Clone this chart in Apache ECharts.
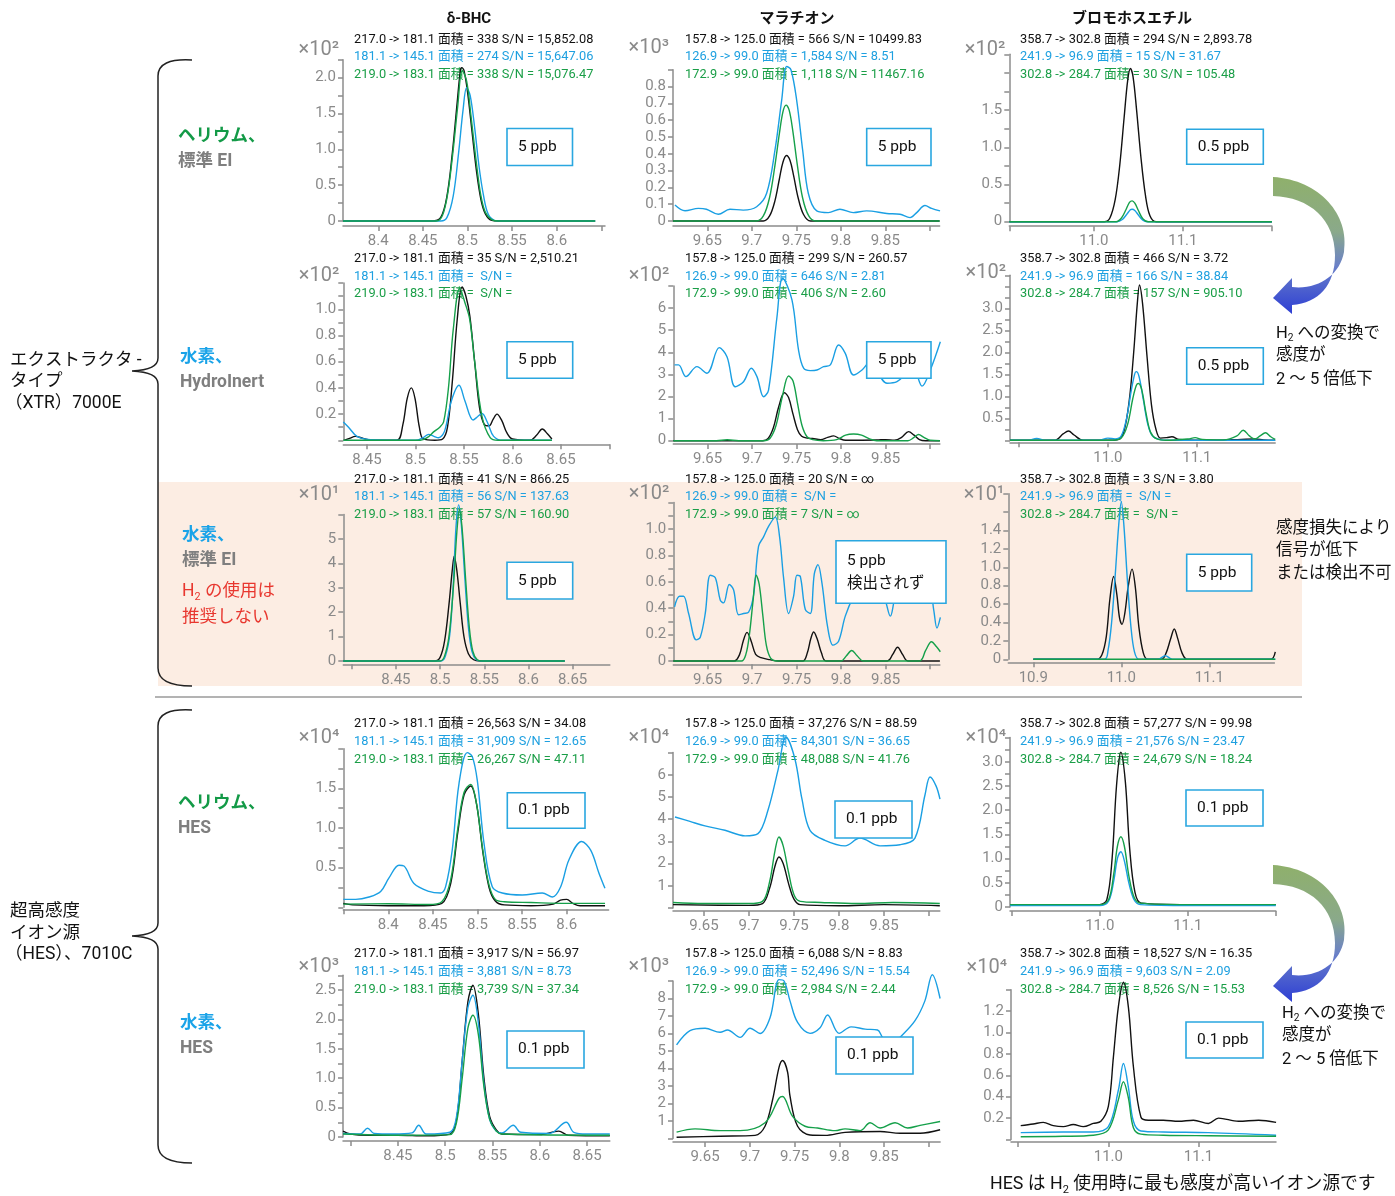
<!DOCTYPE html>
<html><head><meta charset="utf-8">
<script src="https://cdn.jsdelivr.net/npm/echarts@6/dist/echarts.min.js"></script>
<style>html,body{margin:0;padding:0;background:#fff}#c{width:1395px;height:1196px}</style>
</head><body><div id="c"></div>
<script>
const FONT = 'Roboto, "Noto Sans CJK JP", sans-serif';
const BLACK = '#111111', BLUE = '#1a9fe3', GREEN = '#15a04a';
const TBLUE = '#1ea0e0', TGREEN = '#1a9e47';

const compounds = ['δ-BHC', 'マラチオン', 'ブロモホスエチル'];

const mrmR1 = [
  ['217.0 -> 181.1 面積 = 338 S/N = 15,852.08', '181.1 -> 145.1 面積 = 274 S/N = 15,647.06', '219.0 -> 183.1 面積 = 338 S/N = 15,076.47'],
  ['157.8 -> 125.0 面積 = 566 S/N = 10499.83', '126.9 -> 99.0 面積 = 1,584 S/N = 8.51', '172.9 -> 99.0 面積 = 1,118 S/N = 11467.16'],
  ['358.7 -> 302.8 面積 = 294 S/N = 2,893.78', '241.9 -> 96.9 面積 = 15 S/N = 31.67', '302.8 -> 284.7 面積 = 30 S/N = 105.48']
];
const mrmR2 = [
  ['217.0 -> 181.1 面積 = 35 S/N = 2,510.21', '181.1 -> 145.1 面積 =  S/N =', '219.0 -> 183.1 面積 =  S/N ='],
  ['157.8 -> 125.0 面積 = 299 S/N = 260.57', '126.9 -> 99.0 面積 = 646 S/N = 2.81', '172.9 -> 99.0 面積 = 406 S/N = 2.60'],
  ['358.7 -> 302.8 面積 = 466 S/N = 3.72', '241.9 -> 96.9 面積 = 166 S/N = 38.84', '302.8 -> 284.7 面積 = 157 S/N = 905.10']
];
const mrmR3 = [
  ['217.0 -> 181.1 面積 = 41 S/N = 866.25', '181.1 -> 145.1 面積 = 56 S/N = 137.63', '219.0 -> 183.1 面積 = 57 S/N = 160.90'],
  ['157.8 -> 125.0 面積 = 20 S/N = ∞', '126.9 -> 99.0 面積 =  S/N =', '172.9 -> 99.0 面積 = 7 S/N = ∞'],
  ['358.7 -> 302.8 面積 = 3 S/N = 3.80', '241.9 -> 96.9 面積 =  S/N =', '302.8 -> 284.7 面積 =  S/N =']
];
const mrmR4 = [
  ['217.0 -> 181.1 面積 = 26,563 S/N = 34.08', '181.1 -> 145.1 面積 = 31,909 S/N = 12.65', '219.0 -> 183.1 面積 = 26,267 S/N = 47.11'],
  ['157.8 -> 125.0 面積 = 37,276 S/N = 88.59', '126.9 -> 99.0 面積 = 84,301 S/N = 36.65', '172.9 -> 99.0 面積 = 48,088 S/N = 41.76'],
  ['358.7 -> 302.8 面積 = 57,277 S/N = 99.98', '241.9 -> 96.9 面積 = 21,576 S/N = 23.47', '302.8 -> 284.7 面積 = 24,679 S/N = 18.24']
];
const mrmR5 = [
  ['217.0 -> 181.1 面積 = 3,917 S/N = 56.97', '181.1 -> 145.1 面積 = 3,881 S/N = 8.73', '219.0 -> 183.1 面積 = 3,739 S/N = 37.34'],
  ['157.8 -> 125.0 面積 = 6,088 S/N = 8.83', '126.9 -> 99.0 面積 = 52,496 S/N = 15.54', '172.9 -> 99.0 面積 = 2,984 S/N = 2.44'],
  ['358.7 -> 302.8 面積 = 18,527 S/N = 16.35', '241.9 -> 96.9 面積 = 9,603 S/N = 2.09', '302.8 -> 284.7 面積 = 8,526 S/N = 15.53']
];
const concR1 = ['5 ppb', '5 ppb', '0.5 ppb'];
const concR2 = ['5 ppb', '5 ppb', '0.5 ppb'];
const concR3 = ['5 ppb', '5 ppb\n検出されず', '5 ppb'];
const concR4 = ['0.1 ppb', '0.1 ppb', '0.1 ppb'];
const concR5 = ['0.1 ppb', '0.1 ppb', '0.1 ppb'];
const exponents = [['×10²', '×10³', '×10²'], ['×10²', '×10²', '×10²'], ['×10¹', '×10²', '×10¹'], ['×10⁴', '×10⁴', '×10⁴'], ['×10³', '×10³', '×10⁴']];

const xTickR1C1 = [8.4, 8.45, 8.5, 8.55, 8.6, 8.65], xLabR1C1 = [8.4, 8.45, 8.5, 8.55, 8.6];
const xTickMal = [9.65, 9.7, 9.75, 9.8, 9.85, 9.9], xLabMal = [9.65, 9.7, 9.75, 9.8, 9.85];
const xTickR1C3 = [10.905, 11.0, 11.1, 11.2], xLabR1C3 = [11.0, 11.1];
const xTickR2C1 = [8.45, 8.5, 8.55, 8.6, 8.65, 8.7], xLabR2C1 = [8.45, 8.5, 8.55, 8.6, 8.65];
const xTickR2C3 = [10.9, 11.0, 11.1], xLabR2C3 = [11.0, 11.1];
const xTickR3C1 = [8.4, 8.45, 8.5, 8.55, 8.6, 8.65], xLabR3C1 = [8.45, 8.5, 8.55, 8.6, 8.65];
const xTickR3C3 = [10.9, 11.0, 11.1], xLabR3C3 = [10.9, 11.0, 11.1];
const xTickR4C1 = [8.35, 8.4, 8.45, 8.5, 8.55, 8.6], xLabR4C1 = [8.4, 8.45, 8.5, 8.55, 8.6];
const xTickR4C3 = [10.9, 11.0, 11.1, 11.2], xLabR4C3 = [11.0, 11.1];
const xTickR5C1 = [8.4, 8.45, 8.5, 8.55, 8.6, 8.65], xLabR5C1 = [8.45, 8.5, 8.55, 8.6, 8.65];
const xTickR5C3 = [10.9, 11.0, 11.1], xLabR5C3 = [11.0, 11.1];

const yTickR1C1 = [0, 0.25, 0.5, 0.75, 1, 1.25, 1.5, 1.75, 2, 2.25], yLabR1C1 = [0, 0.5, 1, 1.5, 2];
const yTickR1C2 = [0, 0.1, 0.2, 0.3, 0.4, 0.5, 0.6, 0.7, 0.8, 0.9], yLabR1C2 = [0, 0.1, 0.2, 0.3, 0.4, 0.5, 0.6, 0.7, 0.8];
const yTickR1C3 = [0, 0.25, 0.5, 0.75, 1, 1.25, 1.5, 1.75, 2, 2.25], yLabR1C3 = [0, 0.5, 1, 1.5];
const yTickR2C1 = [0, 0.1, 0.2, 0.3, 0.4, 0.5, 0.6, 0.7, 0.8, 0.9, 1.0, 1.1, 1.2], yLabR2C1 = [0.2, 0.4, 0.6, 0.8, 1.0];
const yTickR2C2 = [0, 1, 2, 3, 4, 5, 6, 7], yLabR2C2 = [0, 1, 2, 3, 4, 5, 6];
const yTickR2C3 = [0, 0.25, 0.5, 0.75, 1, 1.25, 1.5, 1.75, 2, 2.25, 2.5, 2.75, 3, 3.25, 3.5, 3.75], yLabR2C3 = [0.5, 1, 1.5, 2, 2.5, 3];
const yTickR3C1 = [0, 1, 2, 3, 4, 5, 6], yLabR3C1 = [0, 1, 2, 3, 4, 5];
const yTickR3C2 = [0, 0.1, 0.2, 0.3, 0.4, 0.5, 0.6, 0.7, 0.8, 0.9, 1.0, 1.1, 1.2], yLabR3C2 = [0, 0.2, 0.4, 0.6, 0.8, 1.0];
const yTickR3C3 = [0, 0.2, 0.4, 0.6, 0.8, 1.0, 1.2, 1.4, 1.6, 1.8], yLabR3C3 = [0, 0.2, 0.4, 0.6, 0.8, 1.0, 1.2, 1.4];
const yTickR4C1 = [0, 0.25, 0.5, 0.75, 1, 1.25, 1.5, 1.75, 2], yLabR4C1 = [0.5, 1, 1.5];
const yTickR4C2 = [0, 1, 2, 3, 4, 5, 6, 7], yLabR4C2 = [1, 2, 3, 4, 5, 6];
const yTickR4C3 = [0, 0.25, 0.5, 0.75, 1, 1.25, 1.5, 1.75, 2, 2.25, 2.5, 2.75, 3, 3.25, 3.5], yLabR4C3 = [0, 0.5, 1, 1.5, 2, 2.5, 3];
const yTickR5C1 = [0, 0.25, 0.5, 0.75, 1, 1.25, 1.5, 1.75, 2, 2.25, 2.5, 2.75], yLabR5C1 = [0, 0.5, 1, 1.5, 2, 2.5];
const yTickR5C2 = [0, 1, 2, 3, 4, 5, 6, 7, 8, 9], yLabR5C2 = [1, 2, 3, 4, 5, 6, 7, 8];
const yTickR5C3 = [0, 0.2, 0.4, 0.6, 0.8, 1.0, 1.2, 1.4], yLabR5C3 = [0.2, 0.4, 0.6, 0.8, 1.0, 1.2];

// ---------------- trace data [retention time, intensity] ----------------
const r1c1Black = [[8.3605,0],[8.46,0],[8.47,0.05],[8.477,0.35],[8.483,0.95],[8.488,1.6],[8.492,2.1],[8.4935,2.14],[8.496,2.1],[8.5,1.8],[8.505,1.25],[8.51,0.7],[8.515,0.3],[8.52,0.1],[8.527,0.01],[8.535,0],[8.643,0]];
const r1c1Blue = [[8.3605,0],[8.47,0],[8.477,0.05],[8.484,0.35],[8.49,0.95],[8.495,1.55],[8.499,1.86],[8.503,1.75],[8.508,1.3],[8.513,0.75],[8.518,0.35],[8.523,0.1],[8.53,0.01],[8.537,0],[8.643,0]];
const r1c1Green = [[8.3605,0],[8.465,0],[8.472,0.08],[8.478,0.4],[8.484,1.0],[8.489,1.6],[8.494,2.1],[8.499,1.95],[8.504,1.45],[8.51,0.8],[8.515,0.35],[8.52,0.12],[8.527,0.02],[8.535,0],[8.643,0]];

const r1c2Black = [[9.6115,0],[9.713,0],[9.72,0.03],[9.726,0.12],[9.731,0.25],[9.735,0.35],[9.739,0.39],[9.743,0.36],[9.747,0.27],[9.752,0.14],[9.758,0.04],[9.766,0],[9.911,0]];
const r1c2Blue = [[9.6137,0.095],[9.625,0.061],[9.64,0.075],[9.649,0.07],[9.6624,0.04],[9.6755,0.07],[9.6904,0.065],[9.7055,0.085],[9.7167,0.165],[9.726,0.42],[9.7336,0.72],[9.7392,0.92],[9.744,0.9],[9.7504,0.72],[9.7572,0.42],[9.7635,0.165],[9.773,0.06],[9.786,0.05],[9.799,0.07],[9.814,0.05],[9.829,0.06],[9.8516,0.045],[9.8665,0.04],[9.8778,0.02],[9.8853,0.05],[9.8946,0.092],[9.902,0.075],[9.9115,0.06]];
const r1c2Green = [[9.6115,0],[9.705,0],[9.713,0.03],[9.72,0.14],[9.726,0.33],[9.731,0.52],[9.735,0.65],[9.7385,0.69],[9.742,0.66],[9.746,0.54],[9.751,0.34],[9.757,0.14],[9.764,0.03],[9.772,0],[9.911,0]];

const r1c3Black = [[10.905,0],[11.012,0],[11.018,0.05],[11.024,0.3],[11.029,0.75],[11.034,1.4],[11.038,1.9],[11.041,2.06],[11.044,1.95],[11.048,1.5],[11.053,0.85],[11.058,0.35],[11.063,0.08],[11.07,0],[11.2,0]];
const r1c3Blue = [[10.905,0],[11.026,0],[11.032,0.03],[11.037,0.1],[11.041,0.16],[11.043,0.167],[11.046,0.15],[11.05,0.09],[11.055,0.02],[11.06,0],[11.2,0]];
const r1c3Green = [[10.905,0],[11.025,0],[11.031,0.05],[11.036,0.16],[11.04,0.26],[11.043,0.28],[11.046,0.25],[11.05,0.15],[11.055,0.04],[11.061,0],[11.2,0]];

const r2c1Black = [[8.4262,0],[8.432,0.015],[8.438,0.03],[8.446,0.015],[8.455,0],[8.481,0],[8.487,0.12],[8.4915,0.32],[8.4957,0.4],[8.4995,0.32],[8.504,0.1],[8.508,0.01],[8.52,0],[8.528,0.01],[8.533,0.1],[8.538,0.45],[8.543,0.92],[8.548,1.17],[8.552,1.1],[8.556,0.95],[8.561,0.6],[8.566,0.25],[8.571,0.12],[8.576,0.11],[8.58,0.16],[8.584,0.2],[8.589,0.15],[8.594,0.06],[8.6,0.01],[8.618,0],[8.625,0.04],[8.6307,0.086],[8.636,0.05],[8.6406,0.01]];
const r2c1Blue = [[8.4256,0.14],[8.431,0.1],[8.4397,0.03],[8.4534,0.005],[8.5,0],[8.508,0.02],[8.5135,0.045],[8.519,0.03],[8.5238,0.02],[8.53,0.07],[8.537,0.3],[8.5449,0.42],[8.551,0.3],[8.5594,0.155],[8.564,0.18],[8.5686,0.205],[8.574,0.14],[8.5806,0.03],[8.59,0],[8.6406,0]];
const r2c1Green = [[8.4256,0],[8.505,0],[8.512,0.02],[8.519,0.066],[8.525,0.1],[8.529,0.14],[8.534,0.4],[8.539,0.85],[8.5456,1.16],[8.551,1.05],[8.556,0.92],[8.561,0.6],[8.5686,0.18],[8.577,0.02],[8.585,0],[8.6406,0]];

const r2c2Black = [[9.6115,0],[9.712,0],[9.718,0.1],[9.724,0.6],[9.73,1.55],[9.7363,2.17],[9.741,1.95],[9.746,1.2],[9.751,0.5],[9.7557,0.2],[9.762,0.12],[9.768,0.1],[9.777,0.05],[9.785,0.15],[9.7916,0.22],[9.798,0.1],[9.805,0.02],[9.84,0.03],[9.85,0.05],[9.86,0.02],[9.868,0.15],[9.8758,0.41],[9.882,0.25],[9.888,0.05],[9.895,0],[9.911,0]];
const r2c2Blue = [[9.6129,3.43],[9.6174,3.43],[9.6257,2.9],[9.6381,3.35],[9.6493,3.05],[9.6631,4.21],[9.6718,3.8],[9.6811,2.44],[9.6904,2.67],[9.6991,3.28],[9.7055,2.9],[9.7129,1.99],[9.7185,2.29],[9.728,5.61],[9.7343,7.35],[9.7448,6.37],[9.7522,4.1],[9.7579,3.28],[9.7654,3.17],[9.7729,3.2],[9.7803,3.35],[9.7879,3.43],[9.7972,4.33],[9.8047,3.95],[9.814,2.97],[9.8235,3.2],[9.8328,3.57],[9.8516,2.6],[9.8628,2.67],[9.874,3.05],[9.8815,3.2],[9.8909,2.47],[9.9002,3.2],[9.9115,4.48]];
const r2c2Green = [[9.6115,0],[9.66,0],[9.672,0.04],[9.685,0],[9.713,0],[9.72,0.1],[9.727,0.7],[9.734,2.0],[9.741,2.93],[9.746,2.7],[9.751,1.7],[9.756,0.7],[9.7617,0.18],[9.768,0.05],[9.78,0],[9.795,0.05],[9.805,0.25],[9.814,0.3],[9.823,0.25],[9.832,0.08],[9.84,0],[9.875,0],[9.882,0.15],[9.887,0.28],[9.893,0.15],[9.9,0.02],[9.911,0]];

const r2c3Black = [[10.89,0],[10.94,0],[10.95,0.15],[10.9557,0.21],[10.962,0.12],[10.972,0],[11.0,0],[11.012,0.02],[11.018,0.2],[11.024,0.9],[11.029,2.0],[11.033,3.1],[11.0355,3.53],[11.039,3.1],[11.044,1.9],[11.049,0.8],[11.054,0.25],[11.059,0.05],[11.066,0.06],[11.072,0.08],[11.08,0.02],[11.12,0],[11.15,0.02],[11.165,0.03],[11.175,0.01],[11.188,0]];
const r2c3Blue = [[10.89,0],[10.91,0],[10.92,0.04],[10.93,0],[10.99,0],[11.0,0.05],[11.008,0.03],[11.015,0.1],[11.021,0.5],[11.026,1.1],[11.03,1.5],[11.0318,1.56],[11.035,1.45],[11.04,0.9],[11.045,0.35],[11.05,0.1],[11.058,0.02],[11.07,0],[11.188,0]];
const r2c3Green = [[10.89,0],[11.005,0],[11.015,0.05],[11.022,0.35],[11.028,0.95],[11.032,1.25],[11.0344,1.29],[11.038,1.15],[11.043,0.6],[11.048,0.18],[11.055,0.03],[11.065,0],[11.09,0.03],[11.098,0.06],[11.106,0.02],[11.13,0.01],[11.145,0.1],[11.152,0.23],[11.159,0.1],[11.165,0.03],[11.171,0.1],[11.177,0.17],[11.183,0.08],[11.188,0.02]];

const r3c1Black = [[8.3905,0],[8.494,0],[8.5,0.15],[8.505,0.8],[8.51,2.3],[8.514,3.8],[8.516,4.3],[8.519,3.7],[8.523,2.3],[8.527,1.0],[8.532,0.3],[8.538,0.05],[8.545,0],[8.641,0]];
const r3c1Blue = [[8.3905,0],[8.501,0],[8.506,0.2],[8.511,1.1],[8.515,3.2],[8.518,5.5],[8.521,6.4],[8.524,5.6],[8.528,3.4],[8.532,1.4],[8.536,0.4],[8.541,0.05],[8.547,0],[8.641,0]];
const r3c1Green = [[8.3905,0],[8.5,0],[8.505,0.2],[8.51,1.0],[8.515,3.0],[8.519,5.3],[8.522,6.2],[8.525,5.4],[8.529,3.3],[8.533,1.4],[8.537,0.4],[8.542,0.05],[8.548,0],[8.641,0]];

const r3c2Black = [[9.6115,0],[9.68,0],[9.686,0.05],[9.69,0.15],[9.6943,0.217],[9.699,0.15],[9.704,0.05],[9.71,0.025],[9.72,0.01],[9.73,0],[9.757,0],[9.762,0.06],[9.766,0.17],[9.7692,0.22],[9.773,0.17],[9.778,0.06],[9.783,0],[9.852,0],[9.858,0.05],[9.8635,0.104],[9.869,0.05],[9.875,0],[9.911,0]];
const r3c2Blue = [[9.6129,0.41],[9.6185,0.49],[9.623,0.49],[9.6287,0.36],[9.6373,0.16],[9.6418,0.18],[9.6474,0.36],[9.653,0.65],[9.6587,0.63],[9.6643,0.46],[9.668,0.44],[9.6744,0.58],[9.6792,0.54],[9.6848,0.35],[9.6904,0.36],[9.6961,0.37],[9.7017,0.5],[9.7073,0.87],[9.7129,0.94],[9.7185,1.02],[9.7261,1.09],[9.7309,0.94],[9.7354,0.63],[9.741,0.36],[9.7466,0.49],[9.7504,0.65],[9.7542,0.64],[9.7598,0.39],[9.7654,0.36],[9.7699,0.66],[9.774,0.73],[9.7785,0.59],[9.7848,0.26],[9.7909,0.12],[9.7972,0.15],[9.8047,0.34],[9.814,0.49],[9.8216,0.56],[9.8328,0.6],[9.8478,0.49],[9.8553,0.34],[9.8609,0.49],[9.8702,0.62],[9.8815,0.46],[9.889,0.58],[9.9002,0.52],[9.904,0.39],[9.9077,0.25],[9.9115,0.33]];
const r3c2Green = [[9.6115,0],[9.688,0],[9.693,0.05],[9.697,0.2],[9.701,0.45],[9.7047,0.65],[9.708,0.58],[9.712,0.35],[9.716,0.12],[9.721,0.02],[9.728,0],[9.8,0],[9.806,0.04],[9.812,0.08],[9.818,0.04],[9.825,0],[9.888,0],[9.895,0.08],[9.9015,0.146],[9.907,0.11],[9.9115,0.07]];

const r3c3Black = [[10.9,0],[10.972,0],[10.978,0.05],[10.983,0.25],[10.987,0.65],[10.9913,0.9],[10.995,0.7],[10.998,0.45],[11.0008,0.38],[11.004,0.5],[11.008,0.8],[11.0122,0.98],[11.016,0.78],[11.02,0.35],[11.025,0.07],[11.03,0],[11.046,0],[11.051,0.07],[11.056,0.22],[11.0602,0.33],[11.064,0.23],[11.069,0.07],[11.075,0],[11.17,0],[11.175,0.08]];
const r3c3Blue = [[10.9,0],[10.981,0],[10.985,0.1],[10.989,0.4],[10.993,0.9],[10.997,1.45],[11.0,1.71],[11.003,1.45],[11.007,0.85],[11.011,0.35],[11.015,0.08],[11.02,0],[11.042,0],[11.05,0.04],[11.058,0],[11.175,0]];
const r3c3Green = [[10.9,0],[11.175,0]];

const r4c1Black = [[8.3496,0.05],[8.36,0.03],[8.4,0.02],[8.44,0.02],[8.46,0.05],[8.47,0.3],[8.478,0.95],[8.485,1.42],[8.4924,1.53],[8.499,1.3],[8.506,0.7],[8.513,0.25],[8.52,0.08],[8.53,0.03],[8.56,0.02],[8.585,0.04],[8.593,0.09],[8.6,0.1],[8.607,0.05],[8.615,0.02],[8.643,0.02]];
const r4c1Blue = [[8.3496,0.1],[8.3635,0.1],[8.3784,0.13],[8.3915,0.2],[8.4008,0.37],[8.412,0.53],[8.4176,0.52],[8.4288,0.3],[8.4456,0.2],[8.4587,0.18],[8.4643,0.26],[8.4717,0.72],[8.4793,1.56],[8.4886,1.95],[8.4942,1.9],[8.4998,1.6],[8.5073,0.81],[8.5166,0.26],[8.5278,0.18],[8.5502,0.155],[8.5726,0.18],[8.5839,0.13],[8.5933,0.26],[8.6026,0.6],[8.6168,0.83],[8.6269,0.72],[8.6362,0.43],[8.6429,0.24]];
const r4c1Green = [[8.3496,0.04],[8.4,0.045],[8.445,0.035],[8.46,0.07],[8.47,0.35],[8.478,1.0],[8.485,1.45],[8.4924,1.55],[8.499,1.3],[8.506,0.72],[8.513,0.28],[8.52,0.1],[8.53,0.07],[8.56,0.06],[8.6,0.05],[8.643,0.05]];

const r4c2Black = [[9.6156,0.15],[9.7,0.12],[9.715,0.2],[9.723,0.9],[9.729,1.9],[9.7333,2.3],[9.738,2.0],[9.744,1.1],[9.75,0.4],[9.757,0.15],[9.8,0.1],[9.85,0.15],[9.912,0.1]];
const r4c2Blue = [[9.6178,4.1],[9.6344,3.9],[9.6511,3.7],[9.6733,3.5],[9.6956,3.25],[9.71,3.35],[9.7211,4.4],[9.7322,6.2],[9.7411,7.7],[9.7511,6.7],[9.7589,4.9],[9.7678,3.5],[9.7844,3.05],[9.8067,2.8],[9.8233,3.15],[9.8456,2.8],[9.8678,2.85],[9.8844,3.15],[9.8956,5.1],[9.9011,5.9],[9.9078,5.5],[9.9122,4.9]];
const r4c2Green = [[9.6156,0.25],[9.65,0.2],[9.7,0.2],[9.715,0.3],[9.723,1.2],[9.729,2.6],[9.7333,3.2],[9.738,2.8],[9.744,1.6],[9.75,0.6],[9.757,0.3],[9.78,0.25],[9.82,0.2],[9.86,0.25],[9.912,0.2]];

const r4c3Black = [[10.898,0.05],[11.0,0.05],[11.008,0.15],[11.014,1.0],[11.019,2.5],[11.0239,3.2],[11.029,2.6],[11.034,1.2],[11.04,0.3],[11.047,0.08],[11.1,0.05],[11.2,0.05]];
const r4c3Blue = [[10.898,0.03],[11.0,0.03],[11.01,0.12],[11.016,0.55],[11.02,1.0],[11.024,1.14],[11.028,0.95],[11.033,0.5],[11.039,0.15],[11.046,0.05],[11.1,0.03],[11.2,0.03]];
const r4c3Green = [[10.898,0.05],[11.0,0.05],[11.01,0.15],[11.016,0.7],[11.02,1.25],[11.024,1.45],[11.028,1.25],[11.033,0.65],[11.039,0.2],[11.046,0.08],[11.1,0.05],[11.2,0.05]];

const r5c1Black = [[8.392,0.1],[8.4,0.05],[8.42,0.03],[8.45,0.03],[8.48,0.02],[8.505,0.05],[8.512,0.3],[8.518,1.3],[8.524,2.3],[8.5293,2.58],[8.535,2.1],[8.541,1.0],[8.547,0.35],[8.554,0.12],[8.56,0.05],[8.6,0.04],[8.62,0.1],[8.63,0.03],[8.674,0.02]];
const r5c1Blue = [[8.392,0.06],[8.41,0.05],[8.418,0.15],[8.425,0.06],[8.445,0.05],[8.465,0.07],[8.472,0.2],[8.48,0.05],[8.505,0.08],[8.512,0.35],[8.518,1.3],[8.524,2.2],[8.5293,2.41],[8.535,1.95],[8.541,0.9],[8.547,0.3],[8.554,0.1],[8.56,0.07],[8.572,0.2],[8.58,0.08],[8.61,0.06],[8.628,0.25],[8.636,0.08],[8.65,0.05],[8.674,0.05]];
const r5c1Green = [[8.392,0.05],[8.45,0.03],[8.505,0.04],[8.512,0.25],[8.518,1.0],[8.524,1.85],[8.5293,2.07],[8.535,1.75],[8.541,0.85],[8.547,0.3],[8.554,0.1],[8.56,0.05],[8.674,0.03]];

const r5c2Black = [[9.6182,0.07],[9.6668,0.13],[9.7059,0.18],[9.717,0.7],[9.7254,2.2],[9.7327,4.08],[9.7366,4.46],[9.7422,3.8],[9.745,2.4],[9.7534,0.7],[9.7673,0.2],[9.7841,0.18],[9.8064,0.35],[9.8455,0.4],[9.8679,0.3],[9.8902,0.3],[9.9126,0.5]];
const r5c2Blue = [[9.6182,5.35],[9.6332,6.16],[9.65,6.3],[9.6668,6.07],[9.6751,6.2],[9.6891,5.78],[9.7003,6.3],[9.7115,6.0],[9.7226,6.9],[9.7327,9.08],[9.7383,9.0],[9.745,7.85],[9.7534,6.63],[9.7673,6.01],[9.7785,6.33],[9.7869,7.06],[9.7997,6.01],[9.8131,6.38],[9.8288,6.25],[9.8427,6.2],[9.8483,5.78],[9.858,5.3],[9.8679,5.78],[9.8844,6.72],[9.8955,7.85],[9.9039,9.36],[9.9126,8.0]];
const r5c2Green = [[9.6182,0.36],[9.6388,0.55],[9.6668,0.45],[9.6891,0.45],[9.717,0.9],[9.7327,2.3],[9.7366,2.4],[9.7478,1.26],[9.7617,0.7],[9.7757,0.6],[9.7953,0.45],[9.8064,0.55],[9.8232,0.45],[9.8344,0.9],[9.8455,0.6],[9.8623,0.9],[9.8763,0.6],[9.8902,0.75],[9.9126,0.97]];

const r5c3Black = [[10.9028,0.13],[10.9167,0.145],[10.9278,0.16],[10.9389,0.13],[10.95,0.12],[10.9611,0.14],[10.9722,0.12],[10.9833,0.15],[10.9917,0.17],[11.0,0.31],[11.0056,0.77],[11.0111,1.24],[11.0167,1.47],[11.0222,1.24],[11.0278,0.68],[11.0361,0.21],[11.0444,0.18],[11.0611,0.18],[11.0778,0.17],[11.0944,0.18],[11.1111,0.15],[11.1222,0.2],[11.1444,0.17],[11.1667,0.18],[11.1861,0.16]];
const r5c3Blue = [[10.9028,0.064],[10.95,0.07],[10.9833,0.07],[11.0,0.12],[11.0111,0.46],[11.0167,0.71],[11.0222,0.49],[11.0278,0.17],[11.0361,0.08],[11.0611,0.07],[11.1111,0.064],[11.1861,0.04]];
const r5c3Green = [[10.9028,0.026],[10.95,0.03],[10.9833,0.04],[11.0,0.09],[11.0111,0.37],[11.0167,0.54],[11.0222,0.39],[11.0278,0.11],[11.0361,0.05],[11.0611,0.04],[11.1111,0.035],[11.1861,0.03]];

const traces = [
  [r1c1Black, r1c1Blue, r1c1Green], [r1c2Black, r1c2Blue, r1c2Green], [r1c3Black, r1c3Blue, r1c3Green],
  [r2c1Black, r2c1Blue, r2c1Green], [r2c2Black, r2c2Blue, r2c2Green], [r2c3Black, r2c3Blue, r2c3Green],
  [r3c1Black, r3c1Blue, r3c1Green], [r3c2Black, r3c2Blue, r3c2Green], [r3c3Black, r3c3Blue, r3c3Green],
  [r4c1Black, r4c1Blue, r4c1Green], [r4c2Black, r4c2Blue, r4c2Green], [r4c3Black, r4c3Blue, r4c3Green],
  [r5c1Black, r5c1Blue, r5c1Green], [r5c2Black, r5c2Blue, r5c2Green], [r5c3Black, r5c3Blue, r5c3Green]
];
const mrm = [mrmR1, mrmR2, mrmR3, mrmR4, mrmR5];
const conc = [concR1, concR2, concR3, concR4, concR5];

// ---------------- layout (pixel geometry) ----------------
const panels = [
  {left:343, top:59.7, width:262, height:161.3, xMin:8.3605, xMax:8.654, xT:xTickR1C1, xL:xLabR1C1, xOff:5, yMax:2.25, yT:yTickR1C1, yL:yLabR1C1, expY:50, xDec:2},
  {left:673, top:69.8, width:266.6, height:151.2, xMin:9.6115, xMax:9.911, xT:xTickMal, xL:xLabMal, xOff:5, yMax:0.9, yT:yTickR1C2, yL:yLabR1C2, expY:48, xDec:2},
  {left:1009.3, top:54.3, width:262.6, height:167.4, xMin:10.905, xMax:11.2, xT:xTickR1C3, xL:xLabR1C3, xOff:4.5, yMax:2.25, yT:yTickR1C3, yL:yLabR1C3, expY:50, xDec:1},
  {left:343.3, top:283.1, width:266.2, height:157.2, xMin:8.4256, xMax:8.70, xT:xTickR2C1, xL:xLabR2C1, xOff:4, yMax:1.2, yT:yTickR2C1, yL:yLabR2C1, expY:276, xDec:2},
  {left:673.3, top:286, width:266.6, height:154.7, xMin:9.6115, xMax:9.911, xT:xTickMal, xL:xLabMal, xOff:3.3, yMax:7, yT:yTickR2C2, yL:yLabR2C2, expY:276, xDec:2, intY:true},
  {left:1010, top:275.3, width:265.2, height:165, xMin:10.89, xMax:11.188, xT:xTickR2C3, xL:xLabR2C3, xOff:2, yMax:3.75, yT:yTickR2C3, yL:yLabR2C3, expY:273, xDec:1},
  {left:343.3, top:514.6, width:266.5, height:146.4, xMin:8.3905, xMax:8.692, xT:xTickR3C1, xL:xLabR3C1, xOff:3.3, yMax:6, yT:yTickR3C1, yL:yLabR3C1, expY:495, xDec:2, intY:true},
  {left:673.3, top:502.6, width:266.6, height:158.4, xMin:9.6115, xMax:9.911, xT:xTickMal, xL:xLabMal, xOff:3.3, yMax:1.2, yT:yTickR3C2, yL:yLabR3C2, expY:494, xDec:2},
  {left:1008.3, top:493.7, width:266.1, height:165.6, xMin:10.8716, xMax:11.174, xT:xTickR3C3, xL:xLabR3C3, xOff:3, yMax:1.8, yT:yTickR3C3, yL:yLabR3C3, expY:495, xDec:1},
  {left:343.3, top:748.7, width:265.3, height:158.6, xMin:8.3496, xMax:8.647, xT:xTickR4C1, xL:xLabR4C1, xOff:2, yMax:2, yT:yTickR4C1, yL:yLabR4C1, expY:738, xDec:2},
  {left:673, top:752.6, width:266.8, height:155.4, xMin:9.6156, xMax:9.912, xT:xTickMal, xL:xLabMal, xOff:3, yMax:7, yT:yTickR4C2, yL:yLabR4C2, expY:738, xDec:2, intY:true},
  {left:1010, top:737.6, width:265.8, height:169.4, xMin:10.898, xMax:11.2, xT:xTickR4C3, xL:xLabR4C3, xOff:4, yMax:3.5, yT:yTickR4C3, yL:yLabR4C3, expY:738, xDec:1},
  {left:343, top:975.3, width:266.8, height:161.7, xMin:8.392, xMax:8.674, xT:xTickR5C1, xL:xLabR5C1, xOff:4, yMax:2.75, yT:yTickR5C1, yL:yLabR5C1, expY:967, xDec:2},
  {left:673, top:981, width:267.1, height:157.5, xMin:9.6142, xMax:9.9126, xT:xTickMal, xL:xLabMal, xOff:3.5, yMax:9, yT:yTickR5C2, yL:yLabR5C2, expY:967, xDec:2, intY:true},
  {left:1011, top:989.7, width:265, height:149.8, xMin:10.892, xMax:11.186, xT:xTickR5C3, xL:xLabR5C3, xOff:2.5, yMax:1.4, yT:yTickR5C3, yL:yLabR5C3, expY:968, xDec:1}
];
const mrmPos = { x: [354, 685, 1020], y: [[40, 57, 75], [259, 277, 294], [480, 497, 515], [724, 742, 760], [954, 972, 990]] };
const boxPos = [
  [507, 128.5, 65.5, 37], [866.7, 128.5, 64.3, 37], [1186.7, 129.3, 76.6, 35],
  [507, 341.7, 65.7, 36.6], [866.7, 341.7, 64.3, 36.6], [1186.7, 347.7, 76.6, 36.6],
  [507, 562.3, 65.7, 36.7], [836, 540.7, 110, 62.6], [1186.7, 554.3, 65, 36.7],
  [507.3, 792.7, 77.7, 35.6], [835, 801, 77, 37], [1186, 790, 77, 36],
  [507, 1031, 77, 37], [836, 1037, 77, 37], [1186, 1022, 77, 36]
];

const AX = '#8c8c8c', LBL = '#8a8a8a';
const grids = [], xAxes = [], yAxes = [], series = [];
panels.forEach((p, i) => {
  grids.push({ left: p.left, top: p.top, width: p.width, height: p.height, containLabel: false });
  xAxes.push({
    type: 'value', gridIndex: i, min: p.xMin, max: p.xMax, position: 'bottom', offset: p.xOff,
    axisLine: { show: true, onZero: false, lineStyle: { color: AX, width: 1.5 } },
    axisTick: { show: true, customValues: p.xT, length: 5, lineStyle: { color: AX, width: 1.5 } },
    axisLabel: { customValues: p.xL, color: LBL, fontSize: 15, fontFamily: FONT, margin: 8,
      formatter: v => p.xDec === 1 ? Number(v).toFixed(1) : String(Math.round(v * 100) / 100) },
    splitLine: { show: false }
  });
  yAxes.push({
    type: 'value', gridIndex: i, min: 0, max: p.yMax,
    axisLine: { show: true, onZero: false, lineStyle: { color: AX, width: 1.5 } },
    axisTick: { show: true, customValues: p.yT, length: 5, lineStyle: { color: AX, width: 1.5 } },
    axisLabel: { customValues: p.yL, color: LBL, fontSize: 15, fontFamily: FONT, margin: 7,
      formatter: v => (p.intY ? String(v) : (Number(v) === 0 ? '0' : Number(v).toFixed(1))) },
    splitLine: { show: false },
    name: exponents[Math.floor(i / 3)][i % 3], nameLocation: 'end', nameGap: p.top - p.expY,
    nameTextStyle: { color: LBL, fontSize: 20, fontFamily: FONT, align: 'right', verticalAlign: 'middle', padding: [0, 4, 0, 0] }
  });
  const cols = [BLACK, BLUE, GREEN];
  traces[i].forEach((d, k) => series.push({
    type: 'line', xAxisIndex: i, yAxisIndex: i, data: d, showSymbol: false, smooth: 0.35,
    clip: false, silent: true, z: 3 + k,
    lineStyle: { width: 1.4, color: cols[k] }, itemStyle: { color: cols[k] }
  }));
});

// ---------------- decorative shapes via a custom series (braces, arrows) ----------------
const bracePaths = [
  'M192 60 Q158 58 158 76 L158 358 Q158 370 132 371 Q158 372 158 384 L158 668 Q158 686 192 686',
  'M192 710 Q158 708 158 726 L158 923 Q158 935 132 936 Q158 937 158 949 L158 1145 Q158 1163 192 1163'
];
const arrowPath = 'M0 0 C47 3 77 38 71 75 C67 98 45 113 19 110 L19 101 L0 121 L19 137 L19 128 C46 126 62 108 62 78 C62 43 37 20 0 19 Z';
const arrowFill = { type: 'linear', x: 0, y: 0, x2: 0, y2: 1, global: false, colorStops: [
  { offset: 0, color: '#8fb06b' }, { offset: 0.4, color: '#8aa98a' }, { offset: 0.65, color: '#6a80c8' }, { offset: 1, color: '#2d3ed4' } ] };
series.push({
  type: 'custom', coordinateSystem: 'none', silent: true, z: 6, data: [0],
  renderItem: function () {
    const ch = [];
    bracePaths.forEach(d => ch.push({ type: 'path', shape: { pathData: d }, style: { stroke: '#222', lineWidth: 1.5, fill: 'none' } }));
    [177, 865].forEach(y0 => ch.push({ type: 'path', x: 1273, y: y0, shape: { pathData: arrowPath }, style: { fill: arrowFill, stroke: 'none' } }));
    return { type: 'group', children: ch };
  }
});

// ---------------- graphic annotations ----------------
const G = [];
function txt(x, y, text, opt) {
  opt = opt || {};
  G.push({ type: 'text', x: x, y: y, z: opt.z || 20, style: Object.assign({
    text: text, fill: opt.fill || '#111', fontSize: opt.size || 15, fontFamily: FONT, fontWeight: opt.weight || 'normal',
    textAlign: opt.align || 'left', textVerticalAlign: 'middle'
  }, opt.rich ? { rich: opt.rich } : {}) });
}
G.push({ type: 'rect', x: 158, y: 482, z: -10, shape: { width: 1144, height: 204 }, style: { fill: '#fcede3' } });
G.push({ type: 'line', z: 1, shape: { x1: 155, y1: 697, x2: 1302, y2: 697 }, style: { stroke: '#b3b3b3', lineWidth: 2 } });

compounds.forEach((t, c) => txt([469, 797, 1132][c], 19, t, { size: 15, weight: 'bold', align: 'center' }));
mrm.forEach((row, r) => row.forEach((lines, c) => lines.forEach((s, k) =>
  txt(mrmPos.x[c], mrmPos.y[r][k], s, { size: 12.8, fill: [BLACK, TBLUE, TGREEN][k], z: 1 }))));
conc.forEach((row, r) => row.forEach((s, c) => {
  const b = boxPos[r * 3 + c];
  G.push({ type: 'rect', x: b[0], y: b[1], z: 50, shape: { width: b[2], height: b[3] }, style: { fill: '#fff', stroke: '#2aa7e0', lineWidth: 1.6 } });
  const lines = s.split('\n');
  if (lines.length === 1) txt(b[0] + 11, b[1] + b[3] / 2, s, { size: 15.5, z: 51 });
  else lines.forEach((l, k) => txt(b[0] + 11, b[1] + 20 + k * 23.3, l, { size: 15.5, z: 51 }));
}));

const richH = (size, col) => ({ a: { fontSize: size, fontFamily: FONT, fill: col }, b: { fontSize: size * 0.62, fontFamily: FONT, fill: col, verticalAlign: 'bottom', padding: [size * 0.55, 0, 0, 0] } });
txt(10, 361, 'エクストラクタ -', { size: 17.5 });
txt(10, 382, 'タイプ', { size: 17.5 });
txt(5, 404, '（XTR）7000E', { size: 17.5 });
txt(10, 912, '超高感度', { size: 17.5 });
txt(10, 934, 'イオン源', { size: 17.5 });
txt(5, 955, '（HES）、7010C', { size: 17.5 });

const GR = '#7f7f7f', GN = '#139a47', BL = '#1aa3e8', RD = '#e8372f';
txt(178, 137, 'ヘリウム、', { size: 17.5, weight: 'bold', fill: GN });
txt(178, 162, '標準 EI', { size: 17.5, weight: 'bold', fill: GR });
txt(180, 358, '水素、', { size: 17.5, weight: 'bold', fill: BL });
txt(180, 383, 'HydroInert', { size: 17.5, weight: 'bold', fill: GR });
txt(182, 536, '水素、', { size: 17.5, weight: 'bold', fill: BL });
txt(182, 561, '標準 EI', { size: 17.5, weight: 'bold', fill: GR });
txt(182, 592, '{a|H}{b|2}{a| の使用は}', { size: 17.5, fill: RD, rich: richH(17.5, RD) });
txt(182, 618, '推奨しない', { size: 17.5, fill: RD });
txt(178, 804, 'ヘリウム、', { size: 17.5, weight: 'bold', fill: GN });
txt(178, 829, 'HES', { size: 17.5, weight: 'bold', fill: GR });
txt(180, 1024, '水素、', { size: 17.5, weight: 'bold', fill: BL });
txt(180, 1049, 'HES', { size: 17.5, weight: 'bold', fill: GR });

txt(1276, 334, '{a|H}{b|2}{a| への変換で}', { size: 16.5, rich: richH(16.5, '#111') });
txt(1276, 356, '感度が', { size: 16.5 });
txt(1276, 380, '2 ～ 5 倍低下', { size: 16.5 });
txt(1276, 529, '感度損失により', { size: 16.5 });
txt(1276, 551, '信号が低下', { size: 16.5 });
txt(1276, 574, 'または検出不可', { size: 16.5 });
txt(1282, 1014, '{a|H}{b|2}{a| への変換で}', { size: 16.5, rich: richH(16.5, '#111') });
txt(1282, 1036, '感度が', { size: 16.5 });
txt(1282, 1060, '2 ～ 5 倍低下', { size: 16.5 });
txt(990, 1185, '{a|HES は H}{b|2}{a| 使用時に最も感度が高いイオン源です}', { size: 17.8, rich: richH(17.8, '#111') });

const chart = echarts.init(document.getElementById('c'), null, { renderer: 'canvas' });
chart.setOption({
  animation: false, backgroundColor: '#fff',
  grid: grids, xAxis: xAxes, yAxis: yAxes, series: series,
  graphic: { elements: G }
});
</script></body></html>
